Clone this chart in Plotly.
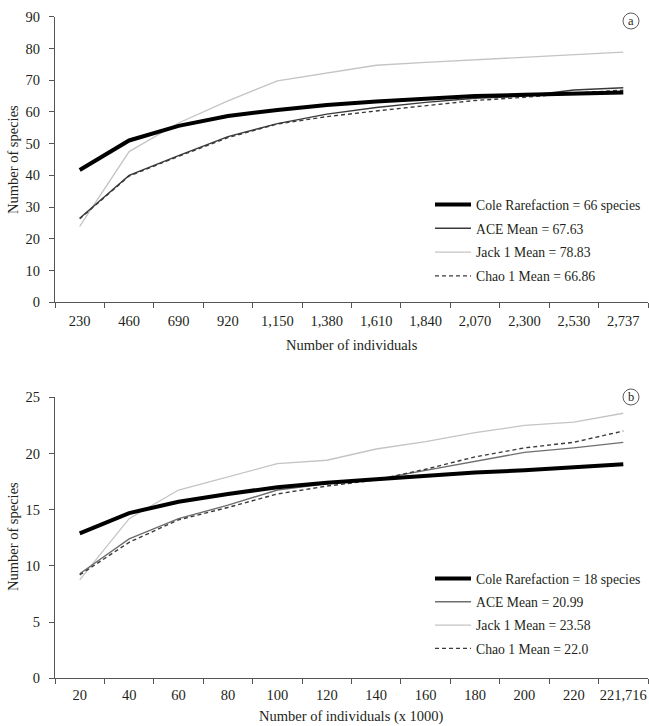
import plotly.graph_objects as go

# ---------------- data ----------------
cats_a = ["230", "460", "690", "920", "1,150", "1,380", "1,610", "1,840", "2,070", "2,300", "2,530", "2,737"]
cole_a = [41.7, 51.0, 55.6, 58.7, 60.6, 62.2, 63.3, 64.1, 65.0, 65.4, 65.9, 66.1]
ace_a = [26.5, 40.0, 46.2, 52.2, 56.3, 59.3, 61.4, 63.0, 64.3, 65.0, 66.9, 67.63]
jack_a = [23.9, 47.5, 56.5, 63.5, 69.8, 72.2, 74.7, 75.6, 76.4, 77.0, 77.9, 78.83]
chao_a = [26.3, 39.8, 46.0, 51.9, 56.2, 58.5, 60.3, 62.0, 63.6, 64.6, 65.9, 66.86]

cats_b = ["20", "40", "60", "80", "100", "120", "140", "160", "180", "200", "220", "221,716"]
cole_b = [12.9, 14.7, 15.7, 16.4, 17.0, 17.4, 17.7, 18.0, 18.3, 18.5, 18.8, 19.05]
ace_b = [9.3, 12.4, 14.2, 15.4, 16.75, 17.3, 17.7, 18.5, 19.3, 20.1, 20.5, 20.99]
jack_b = [8.75, 14.2, 16.75, 17.9, 19.1, 19.4, 20.4, 21.05, 21.85, 22.5, 22.8, 23.58]
chao_b = [9.2, 12.1, 14.1, 15.2, 16.4, 17.1, 17.65, 18.6, 19.7, 20.5, 21.0, 22.0]

names_a = ["Cole Rarefaction = 66 species", "ACE Mean = 67.63", "Jack 1 Mean = 78.83", "Chao 1 Mean = 66.86"]
names_b = ["Cole Rarefaction = 18 species", "ACE Mean = 20.99", "Jack 1 Mean = 23.58", "Chao 1 Mean = 22.0"]

# ---------------- styles ----------------
FONT = "Liberation Serif"
TXT = "#231f20"
styles = [
    dict(color="#000000", width=4, dash="solid"),
    dict(color="#3a3a3a", width=1.4, dash="solid"),
    dict(color="#c4c4c4", width=1.3, dash="solid"),
    dict(color="#3a3a3a", width=1.4, dash="4px,3px"),
]
ace_b_color = "#6e6e6e"

W, H = 649, 726
fig = go.Figure()

# draw order: thin lines first, thick Cole on top
order = [2, 1, 3, 0]
for i in order:
    st = dict(styles[i])
    fig.add_trace(go.Scatter(x=cats_a, y=[cole_a, ace_a, jack_a, chao_a][i], mode="lines",
                             name=names_a[i], line=st, xaxis="x", yaxis="y",
                             legend="legend", legendrank=i + 1, legendgroup=f"a{i}"))
for i in order:
    st = dict(styles[i])
    if i == 1:
        st["color"] = ace_b_color
    fig.add_trace(go.Scatter(x=cats_b, y=[cole_b, ace_b, jack_b, chao_b][i], mode="lines",
                             name=names_b[i], line=st, xaxis="x2", yaxis="y2",
                             legend="legend2", legendrank=i + 1, legendgroup=f"b{i}"))

xl, xr = 55 / W, 648 / W
ya = [1 - 302.3 / H, 1 - 16.7 / H]
yb = [1 - 678.3 / H, 1 - 397.3 / H]

axis_common = dict(showline=True, linecolor="#555555", linewidth=1, ticks="outside",
                   ticklen=5, tickcolor="#555555", showgrid=False, zeroline=False,
                   tickfont=dict(family=FONT, size=14.5, color=TXT), automargin=False)

LEG_FS = 13.7
fig.update_layout(
    width=W, height=H,
    margin=dict(l=0, r=0, t=0, b=0),
    plot_bgcolor="white", paper_bgcolor="white",
    font=dict(family=FONT, size=14.5, color=TXT),
    xaxis=dict(domain=[xl, xr], anchor="y", type="category", tickson="boundaries",
               range=[-0.5, 11.5], tickangle=0, ticklabelstandoff=5, **axis_common),
    yaxis=dict(domain=ya, anchor="x", range=[0, 90], dtick=10, ticklabelstandoff=6, **axis_common),
    xaxis2=dict(domain=[xl, xr], anchor="y2", type="category", tickson="boundaries",
                range=[-0.5, 11.5], tickangle=0, ticklabelstandoff=3, **axis_common),
    yaxis2=dict(domain=yb, anchor="x2", range=[0, 25], dtick=5, ticklabelstandoff=6, **axis_common),
    legend=dict(x=430 / W, y=1 - 189 / H, xanchor="left", yanchor="top", itemwidth=36,
                bgcolor="rgba(0,0,0,0)", tracegroupgap=3, traceorder="grouped",
                font=dict(family=FONT, size=LEG_FS, color=TXT)),
    legend2=dict(x=430 / W, y=1 - 563 / H, xanchor="left", yanchor="top", itemwidth=36,
                 bgcolor="rgba(0,0,0,0)", tracegroupgap=2.5, traceorder="grouped",
                 font=dict(family=FONT, size=LEG_FS, color=TXT)),
    showlegend=True,
)

ann = dict(xref="paper", yref="paper", showarrow=False, xanchor="center", yanchor="middle",
           font=dict(family=FONT, size=14.5, color=TXT))
fig.add_annotation(text="Number of species", x=13 / W, y=1 - 160 / H, textangle=-90, **ann)
fig.add_annotation(text="Number of species", x=13 / W, y=1 - 537 / H, textangle=-90, **ann)
fig.add_annotation(text="Number of individuals", x=(55 + 648) / 2 / W, y=1 - 345 / H, **ann)
fig.add_annotation(text="Number of individuals (x 1000)", x=(55 + 648) / 2 / W, y=1 - 716 / H, **ann)

# circled panel labels
for lab, cy in (("a", 21), ("b", 397)):
    cx, r = 631, 8
    fig.add_shape(type="circle", xref="paper", yref="paper",
                  x0=(cx - r) / W, x1=(cx + r) / W, y0=1 - (cy + r) / H, y1=1 - (cy - r) / H,
                  line=dict(color="#333333", width=0.8))
    fig.add_annotation(text=lab, x=cx / W, y=1 - (cy - 0.5) / H, xanchor="center", yanchor="middle",
                       xref="paper", yref="paper", showarrow=False,
                       font=dict(family=FONT, size=12.5, color=TXT))

fig.write_html("out.html")
